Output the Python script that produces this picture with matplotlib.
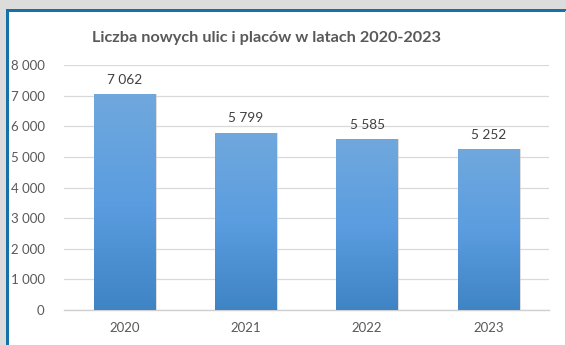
import numpy as np
import matplotlib.pyplot as plt
from matplotlib.patches import Rectangle
from matplotlib.colors import LinearSegmentedColormap

years = ["2020", "2021", "2022", "2023"]
counts = [7062, 5799, 5585, 5252]
y_ticks = [0, 1000, 2000, 3000, 4000, 5000, 6000, 7000, 8000]
title = "Liczba nowych ulic i placów w latach 2020-2023"

FONT = "Lato"
W, H = 566, 345
fig = plt.figure(figsize=(W / 100, H / 100), dpi=100)
fig.patch.set_facecolor("white")

def px(x0, y0, w, h, **kw):
    # rectangle in pixel coordinates (origin top-left)
    fig.patches.append(Rectangle((x0 / W, 1 - (y0 + h) / H), w / W, h / H,
                                 transform=fig.transFigure, **kw))

# surrounding grey margin and blue frame
px(0, 0, W, 9, facecolor="#dcdcdc", edgecolor="none")
px(0, 0, 6, H, facecolor="#dcdcdc", edgecolor="none")
px(6, 9, W - 6, 2.5, facecolor="#1672a6", edgecolor="none")
px(6, 9, 2.5, H - 9, facecolor="#1672a6", edgecolor="none")
px(W - 1.5, 11, 1.5, H - 11, facecolor="#d0d0d0", edgecolor="none")

left, right, top, bottom = 64, 549, 65.2, 310
ax = fig.add_axes([left / W, 1 - bottom / H, (right - left) / W, (bottom - top) / H])
ax.set_facecolor("none")

x = np.arange(len(years))
bars = ax.bar(x, counts, width=0.508, color="none", zorder=3)
ax.set_xlim(-0.5, len(years) - 0.5)
ax.set_ylim(0, 8000)

cmap = LinearSegmentedColormap.from_list("bar", ["#3f84c5", "#5b9de0", "#70a8dd"])
grad = np.linspace(0, 1, 256).reshape(-1, 1)
for b in bars:
    bx, bw, bh = b.get_x(), b.get_width(), b.get_height()
    # soft shadow to the right
    ax.add_patch(Rectangle((bx + 0.012, 0), bw, bh, facecolor="#c8c8c8",
                           edgecolor="none", alpha=0.6, zorder=2))
    im = ax.imshow(grad, cmap=cmap, origin="lower", aspect="auto",
                   extent=(bx, bx + bw, 0, bh), zorder=3)
    im.set_clip_path(b)
    ax.text(bx + bw / 2, bh + 330, f"{int(bh):,}".replace(",", " "),
            ha="center", va="baseline", fontsize=9.8, color="#404040",
            family=FONT)

ax.set_yticks(y_ticks)
ax.set_yticklabels([f"{v:,}".replace(",", " ") for v in y_ticks])
ax.set_xticks(x)
ax.set_xticklabels(years)
ax.grid(axis="y", color="#d9d9d9", linewidth=0.9, zorder=0)
ax.set_axisbelow(True)
for s in ["top", "right", "left"]:
    ax.spines[s].set_visible(False)
ax.spines["bottom"].set_color("#d0d0d0")
ax.spines["bottom"].set_linewidth(1.0)
ax.tick_params(axis="both", length=0, colors="#595959", labelsize=9.5)
ax.tick_params(axis="y", pad=14)
ax.tick_params(axis="x", pad=9)
for lab in ax.get_xticklabels() + ax.get_yticklabels():
    lab.set_family(FONT)

fig.text(266 / W, 1 - 38 / H, title, ha="center", va="center",
         fontsize=11.7, fontweight="bold", color="#595959", family=FONT)

fig.savefig("out.png", dpi=100)
